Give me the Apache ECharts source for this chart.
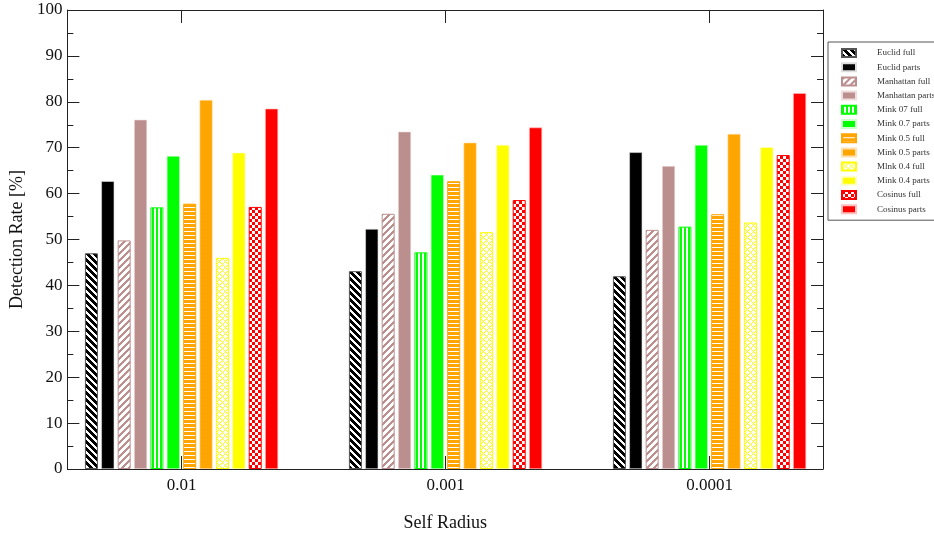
<!DOCTYPE html>
<html>
<head>
<meta charset="utf-8">
<script src="https://cdn.jsdelivr.net/npm/echarts@6/dist/echarts.min.js"></script>
<style>html,body{margin:0;padding:0;background:#fff;}#c{width:934px;height:538px;}</style>
</head>
<body>
<div id="c"></div>
<script>
// ---- data ----
const categories = ['0.01', '0.001', '0.0001'];
const seriesNames = ['Euclid full', 'Euclid parts', 'Manhattan full', 'Manhattan parts',
  'Mink 07 full', 'Mink 0.7 parts', 'Mink 0.5 full', 'Mink 0.5 parts',
  'Mlnk 0.4 full', 'Mink 0.4 parts', 'Cosinus full', 'Cosinus parts'];
const euclidFull     = [47.0, 43.1, 42.0];
const euclidParts    = [62.7, 52.3, 69.0];
const manhattanFull  = [49.8, 55.6, 52.1];
const manhattanParts = [76.1, 73.5, 66.0];
const mink07Full     = [57.0, 47.2, 52.8];
const mink07Parts    = [68.2, 64.1, 70.6];
const mink05Full     = [57.8, 62.7, 55.5];
const mink05Parts    = [80.4, 71.1, 73.0];
const mink04Full     = [46.0, 51.6, 53.7];
const mink04Parts    = [68.9, 70.6, 70.1];
const cosinusFull    = [57.1, 58.6, 68.4];
const cosinusParts   = [78.5, 74.4, 81.9];
const yTicks = [0, 10, 20, 30, 40, 50, 60, 70, 80, 90, 100];

const seriesData = [euclidFull, euclidParts, manhattanFull, manhattanParts,
  mink07Full, mink07Parts, mink05Full, mink05Parts,
  mink04Full, mink04Parts, cosinusFull, cosinusParts];

// ---- patterns ----
function makePattern(w, h, fn) {
  const c = document.createElement('canvas');
  c.width = w; c.height = h;
  const ctx = c.getContext('2d');
  for (let y = 0; y < h; y++) for (let x = 0; x < w; x++) {
    ctx.fillStyle = fn(x, y);
    ctx.fillRect(x, y, 1, 1);
  }
  return { image: c, repeat: 'repeat' };
}
const BLACK = '#000000', BROWN = '#bc8f8f', GREEN = '#00ff00', ORANGE = '#ffa500', YELLOW = '#ffff00', RED = '#ff0000', WHITE = '#ffffff';
const pEuclid = makePattern(7, 7, (x, y) => ((x - y + 14) % 7) < 4 ? BLACK : WHITE);
const pManh = makePattern(7, 7, (x, y) => ((x + y) % 7) < 3 ? BROWN : WHITE);
const pM07 = makePattern(4, 4, (x, y) => (x % 4) < 2 ? GREEN : WHITE);
const pM05 = makePattern(4, 4, (x, y) => (y % 4) < 3 ? ORANGE : WHITE);
const pM04 = makePattern(6, 6, (x, y) => (((x + y) % 6) === 0 || ((x - y + 12) % 6) === 0) ? YELLOW : WHITE);
const pCos = makePattern(6, 6, (x, y) => ((Math.floor(x / 3) + Math.floor(y / 3)) % 2 === 0) ? RED : WHITE);

const styles = [
  { color: pEuclid, borderColor: '#555', borderWidth: 1 },
  { color: BLACK, borderColor: '#ddd', borderWidth: 0.6 },
  { color: pManh, borderColor: BROWN, borderWidth: 1 },
  { color: BROWN, borderColor: '#f0dede', borderWidth: 0.6 },
  { color: pM07, borderColor: GREEN, borderWidth: 1 },
  { color: GREEN, borderColor: '#ccffcc', borderWidth: 0.6 },
  { color: pM05, borderColor: ORANGE, borderWidth: 1 },
  { color: ORANGE, borderColor: '#ffe0b0', borderWidth: 0.6 },
  { color: pM04, borderColor: YELLOW, borderWidth: 1 },
  { color: YELLOW, borderColor: '#ffffc0', borderWidth: 0.6 },
  { color: pCos, borderColor: RED, borderWidth: 1 },
  { color: RED, borderColor: '#ffc0c0', borderWidth: 0.6 }
];

const FONT = "'Liberation Serif', 'DejaVu Serif', serif";
const AX = '#222';

const series = seriesData.map((d, i) => ({
  name: seriesNames[i],
  type: 'bar',
  xAxisIndex: 1,
  yAxisIndex: 1,
  barWidth: 13,
  barGap: '26%',
  data: d,
  itemStyle: styles[i],
  emphasis: { disabled: true },
  animation: false
}));

const lineStyle = { show: true, onZero: false, lineStyle: { color: AX, width: 1 } };

const chart = echarts.init(document.getElementById('c'), null, { renderer: 'canvas' });
chart.setOption({
  animation: false,
  backgroundColor: '#fff',
  grid: [
    { left: 67, top: 10, width: 756, height: 459 },
    { left: 49.5, top: 10, width: 792, height: 459 }
  ],
  xAxis: [
    { gridIndex: 0, type: 'value', min: 0, max: 1, position: 'bottom', z: 5,
      axisLine: lineStyle,
      axisTick: { show: false }, axisLabel: { show: false }, splitLine: { show: false },
      name: 'Self Radius', nameLocation: 'middle', nameGap: 45,
      nameTextStyle: { fontFamily: FONT, fontSize: 18, color: '#111' } },
    { gridIndex: 1, type: 'category', data: categories, position: 'bottom', z: 5,
      axisLine: { show: false, onZero: false },
      axisTick: { show: true, inside: true, alignWithLabel: true, length: 13, lineStyle: { color: AX } },
      axisLabel: { fontFamily: FONT, fontSize: 17, color: '#111', margin: 8 },
      splitLine: { show: false } },
    { gridIndex: 0, type: 'value', min: 0, max: 1, position: 'top', z: 5,
      axisLine: lineStyle,
      axisTick: { show: false }, axisLabel: { show: false }, splitLine: { show: false } },
    { gridIndex: 1, type: 'category', data: categories, position: 'top', z: 5,
      axisLine: { show: false, onZero: false },
      axisTick: { show: true, inside: true, alignWithLabel: true, length: 13, lineStyle: { color: AX } },
      axisLabel: { show: false }, splitLine: { show: false } }
  ],
  yAxis: [
    { gridIndex: 0, type: 'value', min: yTicks[0], max: yTicks[yTicks.length - 1], interval: 10, position: 'left', z: 5,
      axisLine: lineStyle,
      axisTick: { show: true, inside: true, length: 12, lineStyle: { color: AX } },
      minorTick: { show: true, splitNumber: 2, length: 6, lineStyle: { color: AX } },
      axisLabel: { fontFamily: FONT, fontSize: 17, color: '#111', margin: 5 },
      splitLine: { show: false },
      name: 'Detection Rate [%]', nameLocation: 'middle', nameGap: 38, nameRotate: 90,
      nameTextStyle: { fontFamily: FONT, fontSize: 18, color: '#111' } },
    { gridIndex: 1, type: 'value', min: 0, max: 100, show: false },
    { gridIndex: 0, type: 'value', min: 0, max: 100, interval: 10, position: 'right', z: 5,
      axisLine: lineStyle,
      axisTick: { show: true, inside: true, length: 12, lineStyle: { color: AX } },
      minorTick: { show: true, splitNumber: 2, length: 6, lineStyle: { color: AX } },
      axisLabel: { show: false }, splitLine: { show: false } }
  ],
  legend: {
    orient: 'vertical',
    left: 828, top: 42,
    padding: [6, 30, 6, 13],
    itemWidth: 14, itemHeight: 8, itemGap: 4.2,
    icon: 'rect',
    backgroundColor: '#fff',
    borderColor: '#555', borderWidth: 1,
    selectedMode: false,
    textStyle: { fontFamily: FONT, fontSize: 9, color: '#333', lineHeight: 10, padding: [0, 0, 0, 16] },
    data: seriesNames
  },
  series: series
});
</script>
</body>
</html>
